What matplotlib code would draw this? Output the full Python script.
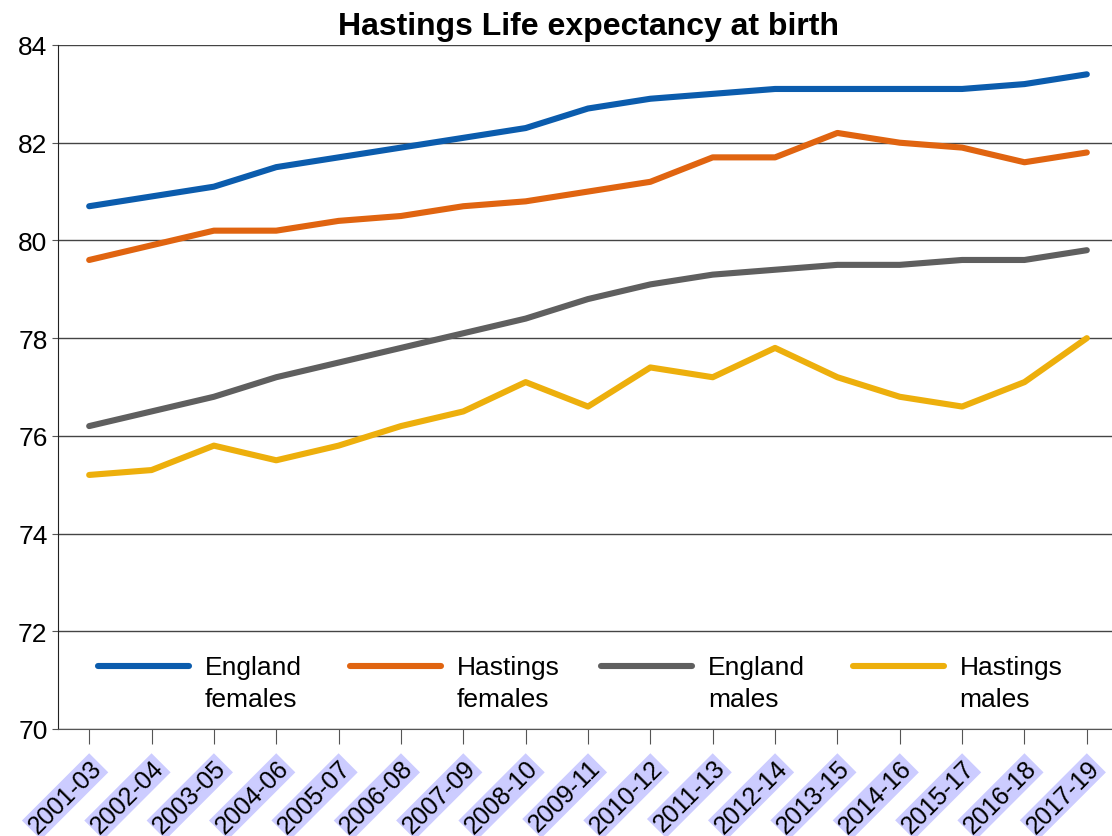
import numpy as np
import matplotlib
matplotlib.use("Agg")
import matplotlib.pyplot as plt

plt.rcParams.update({
    "font.family": ["Liberation Sans", "DejaVu Sans"],
    "font.size": 15,
})

periods = ["2001-03", "2002-04", "2003-05", "2004-06", "2005-07", "2006-08",
           "2007-09", "2008-10", "2009-11", "2010-12", "2011-13", "2012-14",
           "2013-15", "2014-16", "2015-17", "2016-18", "2017-19"]
england_females = [80.7, 80.9, 81.1, 81.5, 81.7, 81.9, 82.1, 82.3, 82.7, 82.9,
                   83.0, 83.1, 83.1, 83.1, 83.1, 83.2, 83.4]
hastings_females = [79.6, 79.9, 80.2, 80.2, 80.4, 80.5, 80.7, 80.8, 81.0, 81.2,
                    81.7, 81.7, 82.2, 82.0, 81.9, 81.6, 81.8]
england_males = [76.2, 76.5, 76.8, 77.2, 77.5, 77.8, 78.1, 78.4, 78.8, 79.1,
                 79.3, 79.4, 79.5, 79.5, 79.6, 79.6, 79.8]
hastings_males = [75.2, 75.3, 75.8, 75.5, 75.8, 76.2, 76.5, 77.1, 76.6, 77.4,
                  77.2, 77.8, 77.2, 76.8, 76.6, 77.1, 78.0]

series = [
    ("England\nfemales", england_females, "#0b5cad"),
    ("Hastings\nfemales", hastings_females, "#e06410"),
    ("England\nmales", england_males, "#5f5f5f"),
    ("Hastings\nmales", hastings_males, "#edaf0c"),
]

W, H = 1112, 837
fig = plt.figure(figsize=(W / 100, H / 100), dpi=100)
# axes runs a little past the right edge of the image, as in the original
ax = fig.add_axes([58 / W, 1 - 730 / H, 1060 / W, 684 / H])

x = np.arange(len(periods))
for name, vals, col in series:
    ax.plot(x, vals, color=col, lw=4.4, solid_capstyle="round")

ax.set_xlim(-0.5, len(periods) - 0.5)
ax.set_ylim(70, 84)
ax.set_yticks(range(70, 85, 2))
ax.yaxis.grid(True, color="#444444", lw=1)
ax.set_axisbelow(True)
for s in ["top", "right"]:
    ax.spines[s].set_visible(False)
ax.spines["bottom"].set_color("#555555")
ax.spines["left"].set_color("#222222")

ax.set_xticks(x)
ax.set_xticklabels(periods, rotation=45, ha="right", rotation_mode="anchor")
ax.tick_params(axis="x", length=11, color="#555555", pad=8, labelsize=18)
ax.tick_params(axis="y", length=4, color="#555555", labelsize=19)
for lab in ax.get_xticklabels():
    lab.set_bbox(dict(facecolor="#ccccff", edgecolor="none", pad=1.0))

ax.set_title("Hastings Life expectancy at birth", fontsize=23, fontweight="bold", pad=8)

# hand-drawn legend: handle sits level with the first text line
def px_x(p):
    return (p - 58) / 1060

def px_y(p):
    return (730 - p) / 684

for i, (name, vals, col) in enumerate(series):
    x0 = 98 + i * 251.5
    ax.plot([px_x(x0), px_x(x0 + 91)], [px_y(667)] * 2, transform=ax.transAxes,
            color=col, lw=4.4, solid_capstyle="round", clip_on=False)
    ax.text(px_x(x0 + 107), px_y(656), name, transform=ax.transAxes,
            ha="left", va="top", fontsize=19, linespacing=1.4)

fig.savefig("out.png", dpi=100)
